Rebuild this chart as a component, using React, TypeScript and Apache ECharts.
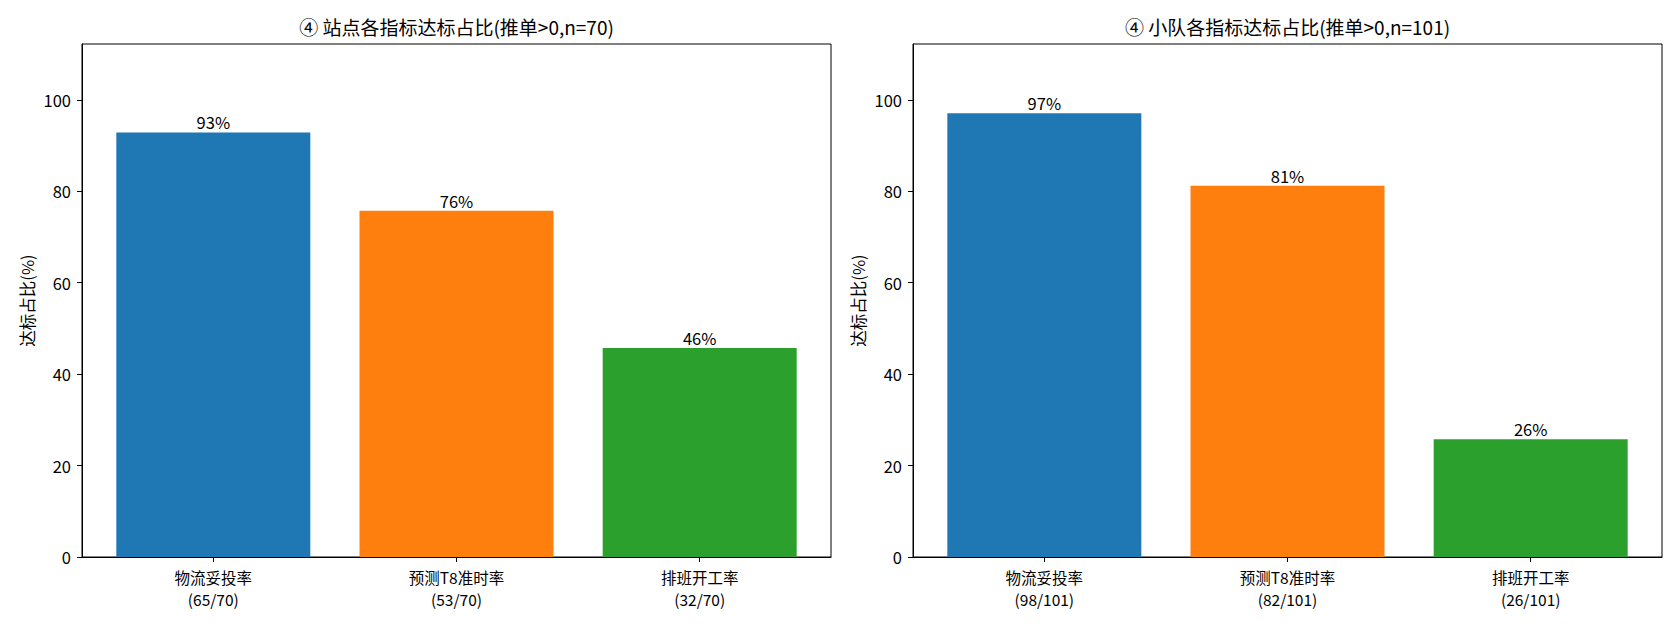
import React, { useEffect, useRef } from "react";
import * as echarts from "echarts";

const categories = ["物流妥投率", "预测T8准时率", "排班开工率"];
const stationCounts = ["(65/70)", "(53/70)", "(32/70)"];
const teamCounts = ["(98/101)", "(82/101)", "(26/101)"];
const stationValues = [92.86, 75.71, 45.71];
const teamValues = [97.03, 81.19, 25.74];
const barColors = ["#1f77b4", "#ff7f0e", "#2ca02c"];
const yTicks = [0, 20, 40, 60, 80, 100];
const titles = ["④ 站点各指标达标占比(推单>0,n=70)", "④ 小队各指标达标占比(推单>0,n=101)"];
const yName = "达标占比(%)";

const FONT = "'Noto Sans CJK SC', 'DejaVu Sans', sans-serif";
const FS = 16.5;

export default function App() {
  const ref = useRef<HTMLDivElement>(null);
  useEffect(() => {
    if (!ref.current) return;
    const chart = echarts.init(ref.current, undefined, { renderer: "svg" });
    const grids = [
      { left: 82, top: 44, width: 749, height: 513 },
      { left: 913, top: 44, width: 749, height: 513 },
    ];
    const countsList = [stationCounts, teamCounts];
    const valuesList = [stationValues, teamValues];
    const xAxes = grids.map((_, i) => ({
      type: "value",
      gridIndex: i,
      min: -0.54,
      max: 2.54,
      axisLine: { show: true, onZero: false, lineStyle: { color: "#000", width: 1 } },
      axisTick: {
        show: true,
        inside: false,
        length: 5,
        customValues: [0, 1, 2],
        lineStyle: { color: "#000", width: 1 },
      },
      axisLabel: {
        customValues: [0, 1, 2],
        margin: 8.5,
        color: "#000",
        fontSize: 15.5,
        lineHeight: 22.5,
        fontFamily: FONT,
        formatter: (v: number) => categories[Math.round(v)] + "\n" + countsList[i][Math.round(v)],
      },
      splitLine: { show: false },
    }));
    const yAxes = grids.map((_, i) => ({
      type: "value",
      gridIndex: i,
      min: 0,
      max: 112.2,
      name: yName,
      nameLocation: "middle",
      nameGap: 47,
      nameRotate: 90,
      nameTextStyle: { color: "#000", fontSize: FS, fontFamily: FONT },
      axisLine: { show: true, onZero: false, lineStyle: { color: "#000", width: 1 } },
      axisTick: {
        show: true,
        inside: false,
        length: 5,
        customValues: yTicks,
        lineStyle: { color: "#000", width: 1 },
      },
      axisLabel: {
        customValues: yTicks,
        margin: 11,
        color: "#000",
        fontSize: FS,
        fontFamily: FONT,
      },
      splitLine: { show: false },
    }));
    const series = valuesList.map((vals, i) => ({
      type: "bar",
      xAxisIndex: i,
      yAxisIndex: i,
      barWidth: 194,
      data: vals.map((v, k) => ({ value: [k, v], itemStyle: { color: barColors[k] } })),
      label: {
        show: true,
        position: "top",
        distance: 2,
        color: "#000",
        fontSize: FS,
        fontFamily: FONT,
        formatter: (p: any) => Math.round(p.value[1]) + "%",
      },
    }));
    chart.setOption({
      animation: false,
      backgroundColor: "#fff",
      textStyle: { fontFamily: FONT },
      title: titles.map((t, i) => ({
        text: t,
        left: grids[i].left + grids[i].width / 2,
        top: 17,
        textAlign: "center",
        padding: 0,
        textStyle: { color: "#000", fontSize: 19, fontWeight: "normal", fontFamily: FONT },
      })),
      grid: grids.map((g) => ({
        ...g,
        show: true,
        borderColor: "#000",
        borderWidth: 1,
        backgroundColor: "transparent",
      })),
      xAxis: xAxes,
      yAxis: yAxes,
      series,
    } as any);
    return () => chart.dispose();
  }, []);
  return (
    <div
      ref={ref}
      style={{ position: "fixed", left: 0, top: 0, width: 1680, height: 624, background: "#fff" }}
    />
  );
}
